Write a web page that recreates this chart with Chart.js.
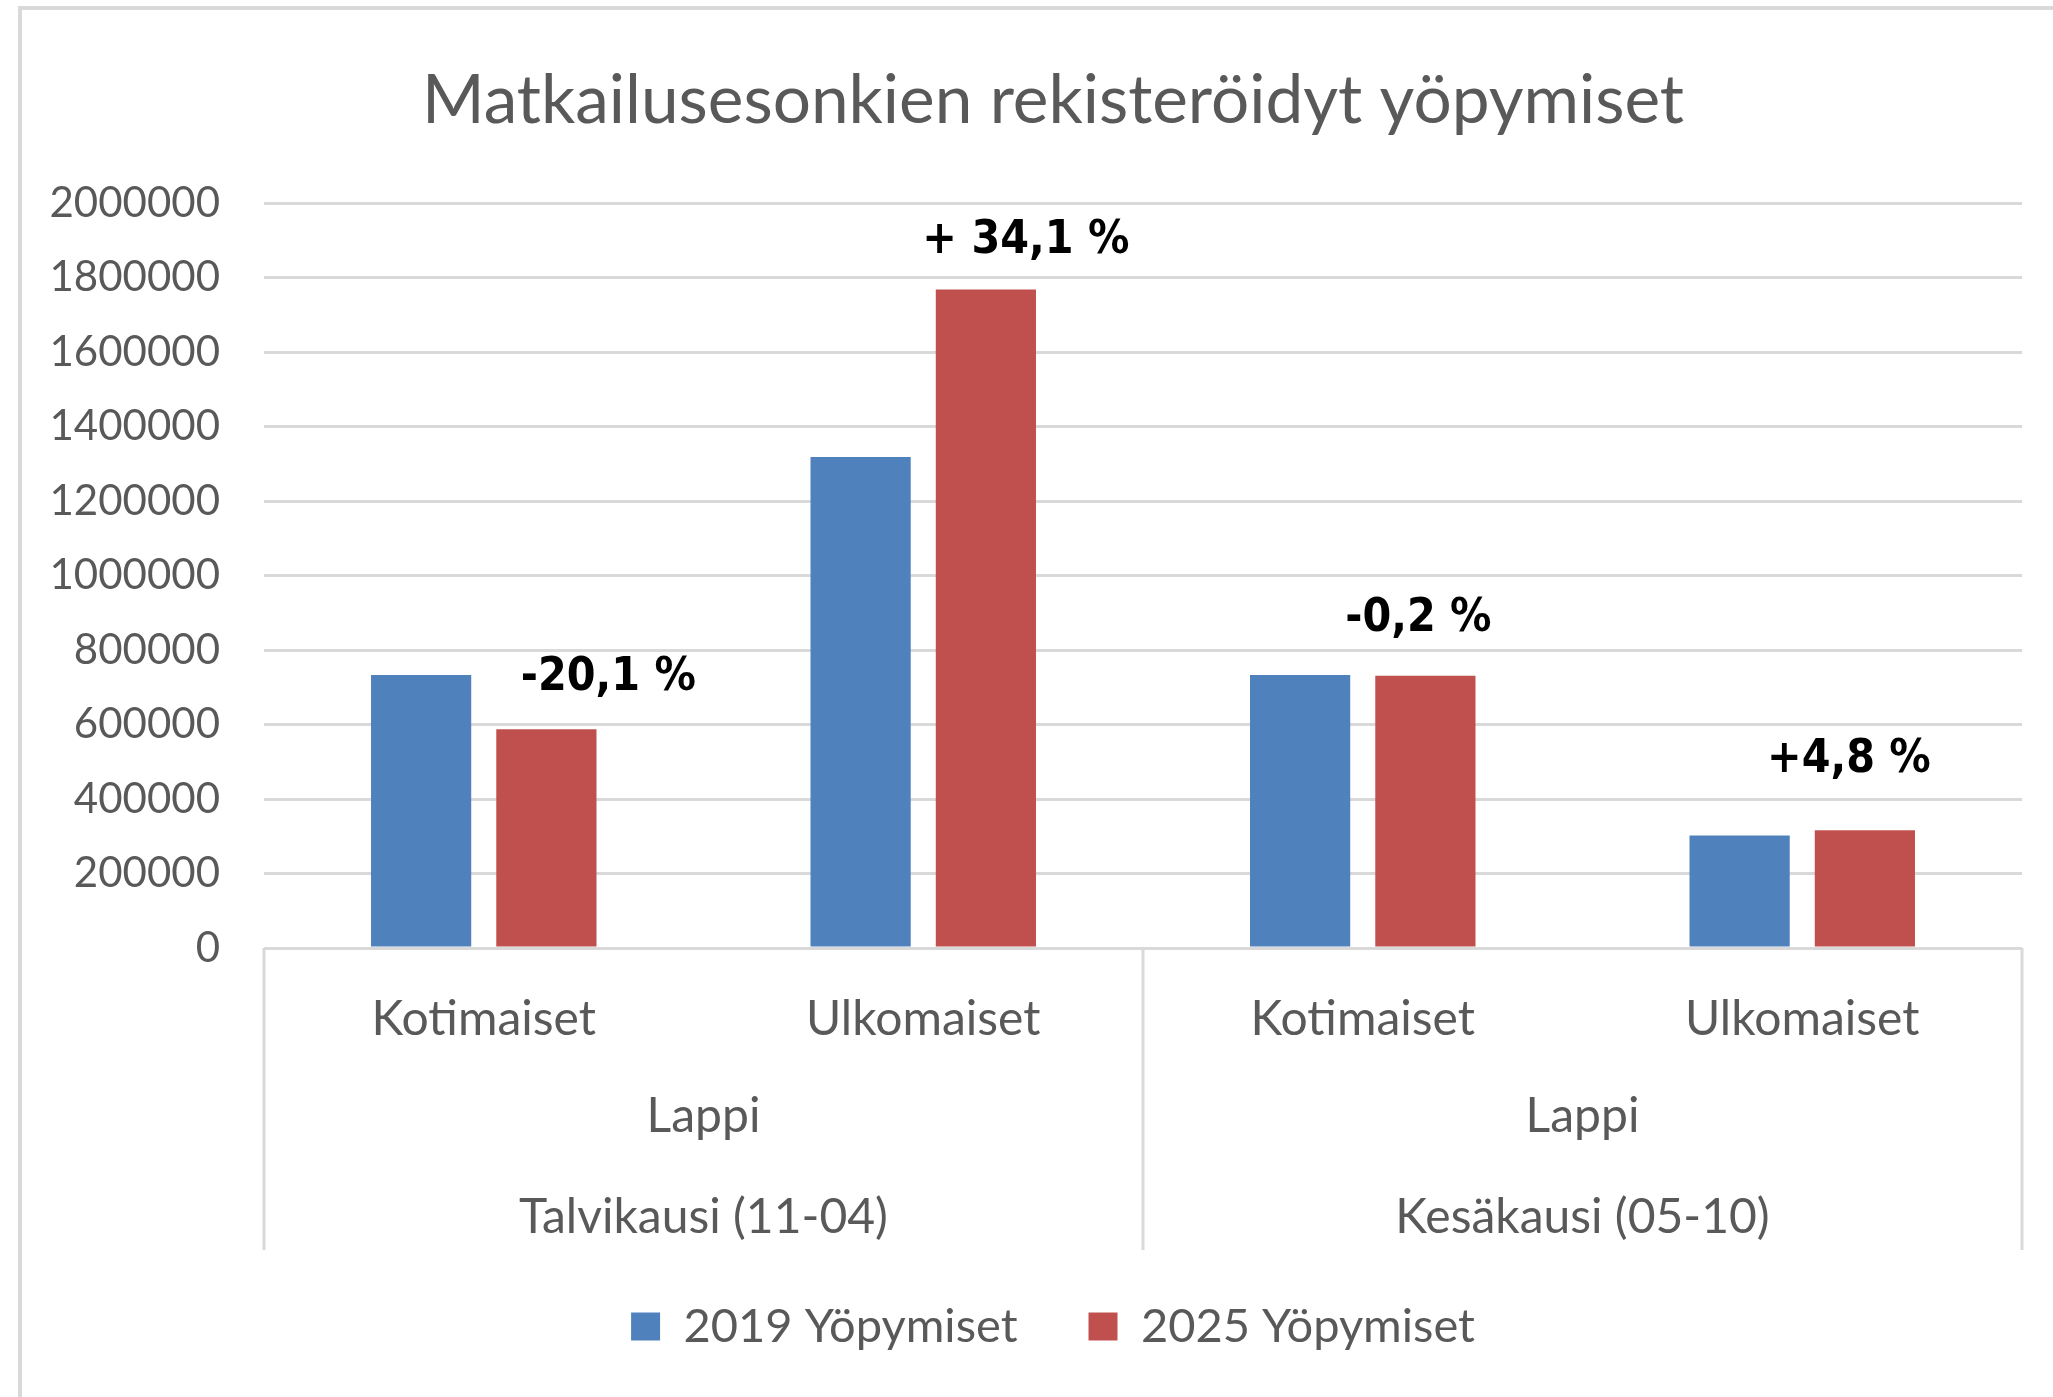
<!DOCTYPE html>
<html>
<head>
<meta charset="utf-8">
<title>Matkailusesonkien rekisteröidyt yöpymiset</title>
<script src="https://cdn.jsdelivr.net/npm/chart.js@4.4.0/dist/chart.umd.min.js"></script>
<style>
  html, body { margin: 0; padding: 0; background: #fff; overflow: hidden; }
  canvas { display: block; }
</style>
</head>
<body>
<canvas id="chart" width="2053" height="1397"></canvas>
<script>
// data
const seasons = ['Talvikausi (11-04)', 'Kesäkausi (05-10)'];
const regions = ['Lappi', 'Lappi'];
const origins = ['Kotimaiset', 'Ulkomaiset', 'Kotimaiset', 'Ulkomaiset'];
const stays2019 = [733000, 1318000, 733000, 302000];
const stays2025 = [587000, 1768000, 731000, 316000];
const changeLabels = ['-20,1 %', '+ 34,1 %', '-0,2 %', '+4,8 %'];
const seriesNames = ['2019 Yöpymiset', '2025 Yöpymiset'];
const yMax = 2000000;
const yStep = 200000;

// label offsets from the top of the 2025 bar (px)
const noteOffsets = [[62, -51], [40, -48], [-7, -57], [-16, -70]];

const textGrey = '#595959';
const gridGrey = '#d9d9d9';

// light frame on the left and top edge
const frame = {
    id: 'frame',
    beforeDraw(chart) {
        const ctx = chart.ctx;
        ctx.save();
        ctx.fillStyle = '#fff';
        ctx.fillRect(0, 0, chart.width, chart.height);
        ctx.strokeStyle = gridGrey;
        ctx.lineWidth = 4;
        ctx.beginPath();
        ctx.moveTo(20, chart.height);
        ctx.lineTo(20, 8);
        ctx.lineTo(chart.width, 8);
        ctx.stroke();
        ctx.restore();
    },
    // let the long value labels run left of the axis box without clipping
    afterLayout(chart) {
        chart.scales.y.left = 24;
    }
};

// second and third level of the category axis
const categoryGroups = {
    id: 'categoryGroups',
    afterDraw(chart) {
        const ctx = chart.ctx;
        const area = chart.chartArea;
        const x = chart.scales.x;
        const per = origins.length / seasons.length;

        ctx.save();
        ctx.strokeStyle = gridGrey;
        ctx.lineWidth = 3;
        const bounds = [area.left];
        for (let g = 1; g < seasons.length; g++) {
            bounds.push((x.getPixelForValue(g * per - 1) + x.getPixelForValue(g * per)) / 2);
        }
        bounds.push(area.right);
        bounds.forEach(bx => {
            ctx.beginPath();
            ctx.moveTo(bx, area.bottom);
            ctx.lineTo(bx, area.bottom + 302);
            ctx.stroke();
        });

        ctx.fillStyle = textGrey;
        ctx.font = '48px Lato';
        ctx.textAlign = 'center';
        ctx.textBaseline = 'middle';
        seasons.forEach((s, g) => {
            const cx = (x.getPixelForValue(g * per) + x.getPixelForValue(g * per + per - 1)) / 2;
            ctx.fillText(regions[g], cx, area.bottom + 169);
            ctx.fillText(s, cx, area.bottom + 270);
        });
        ctx.restore();
    }
};

// change percentages above the bar pairs
const changeNotes = {
    id: 'changeNotes',
    afterDatasetsDraw(chart) {
        const ctx = chart.ctx;
        const bars = chart.getDatasetMeta(1).data;
        ctx.save();
        ctx.fillStyle = '#000';
        ctx.font = 'bold 46px "DejaVu Sans Condensed", "DejaVu Sans"';
        ctx.textAlign = 'center';
        ctx.textBaseline = 'middle';
        changeLabels.forEach((t, i) => {
            ctx.fillText(t, bars[i].x + noteOffsets[i][0], bars[i].y + noteOffsets[i][1]);
        });
        ctx.restore();
    }
};

new Chart(document.getElementById('chart'), {
    type: 'bar',
    data: {
        labels: origins,
        datasets: [
            { label: seriesNames[0], data: stays2019, backgroundColor: '#4f81bd', borderWidth: 0 },
            { label: seriesNames[1], data: stays2025, backgroundColor: '#c0504d', borderWidth: 0 }
        ]
    },
    options: {
        responsive: false,
        animation: false,
        devicePixelRatio: 1,
        categoryPercentage: 0.57,
        barPercentage: 0.8,
        layout: { padding: { left: 84, right: 31, top: 0, bottom: 37 } },
        plugins: {
            title: {
                display: true,
                text: 'Matkailusesonkien rekisteröidyt yöpymiset',
                color: textGrey,
                font: { family: 'Lato', size: 67.5, weight: 'normal', lineHeight: 1.2 },
                padding: { top: 60.5, bottom: 61.5 }
            },
            legend: {
                position: 'bottom',
                labels: {
                    color: textGrey,
                    font: { family: 'Lato', size: 47 },
                    boxWidth: 29,
                    boxHeight: 28,
                    padding: 71
                }
            },
            tooltip: { enabled: false }
        },
        scales: {
            x: {
                grid: { display: false },
                border: { display: false },
                ticks: {
                    color: textGrey,
                    font: { family: 'Lato', size: 48 },
                    padding: 35,
                    maxRotation: 0
                },
                afterFit(scale) { scale.height = 284; }
            },
            y: {
                min: 0,
                max: yMax,
                grid: { color: gridGrey, lineWidth: 3, drawTicks: false },
                border: { display: false },
                ticks: {
                    stepSize: yStep,
                    color: textGrey,
                    font: { family: 'Lato', size: 42 },
                    padding: 44,
                    callback: v => String(v)
                },
                afterFit(scale) { scale.width = 180; }
            }
        }
    },
    plugins: [frame, categoryGroups, changeNotes]
});
</script>
</body>
</html>
